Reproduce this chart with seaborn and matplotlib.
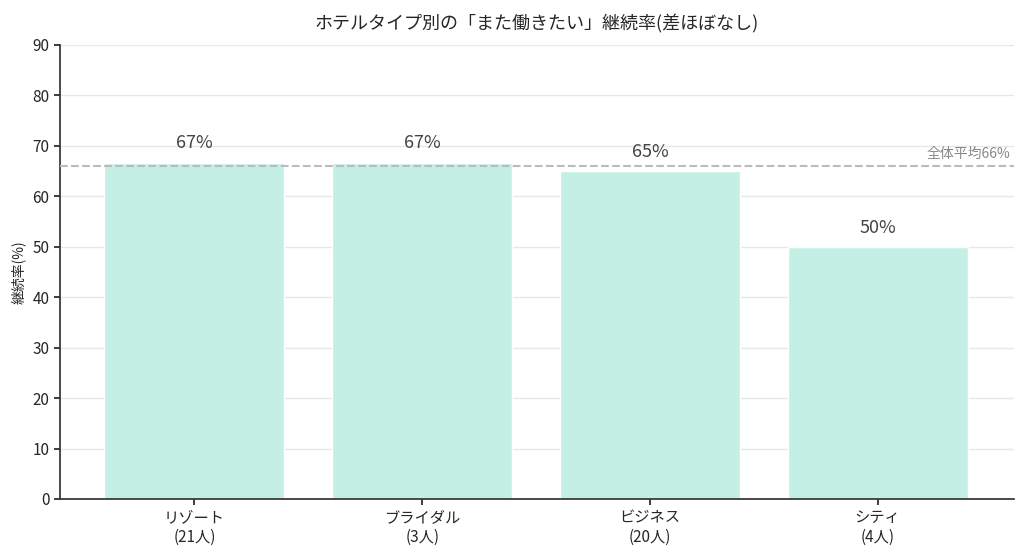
import matplotlib
matplotlib.use("Agg")
import matplotlib.pyplot as plt
import seaborn as sns
import pandas as pd

categories = ["リゾート\n(21人)", "ブライダル\n(3人)", "ビジネス\n(20人)", "シティ\n(4人)"]
rates = [66.7, 66.7, 65.0, 50.0]
labels = ["67%", "67%", "65%", "50%"]
average = 66

sns.set_theme(style="white")
plt.rcParams['font.family'] = ['Noto Sans CJK JP', 'DejaVu Sans']

df = pd.DataFrame({"type": categories, "rate": rates})

fig = plt.figure(figsize=(10.24, 5.51), dpi=100)
ax = fig.add_axes([0.0586, 0.0944, 0.932, 0.824])
sns.barplot(data=df, x="type", y="rate", color="#c4efe4", saturation=1, width=0.79, ax=ax, zorder=2)

ax.axhline(average, color="#bbbbbb", linestyle="--", linewidth=1.5, zorder=3)
ax.text(3.4, average + 1.5, f"全体平均{average}%", color="#888888", fontsize=10, ha="center")

for i, (v, lab) in enumerate(zip(rates, labels)):
    ax.text(i, v + 2, lab, ha="center", va="bottom", fontsize=13, color="#444444")

ax.set_ylim(0, 90)
ax.set_xlim(-0.59, 3.6)
ax.set_yticks(range(0, 91, 10))
ax.yaxis.grid(True, color="#e8e8e8", linewidth=1, zorder=0)
ax.set_axisbelow(True)
ax.set_xlabel("")
ax.set_ylabel("継続率(%)", fontsize=10)
ax.set_title("ホテルタイプ別の「また働きたい」継続率(差ほぼなし)", fontsize=13, pad=12)
ax.tick_params(axis="both", labelsize=11, length=4, left=True, bottom=True)
for s in ["top", "right"]:
    ax.spines[s].set_visible(False)
for s in ["left", "bottom"]:
    ax.spines[s].set_color("#333333")

fig.savefig("out.png", dpi=100)
